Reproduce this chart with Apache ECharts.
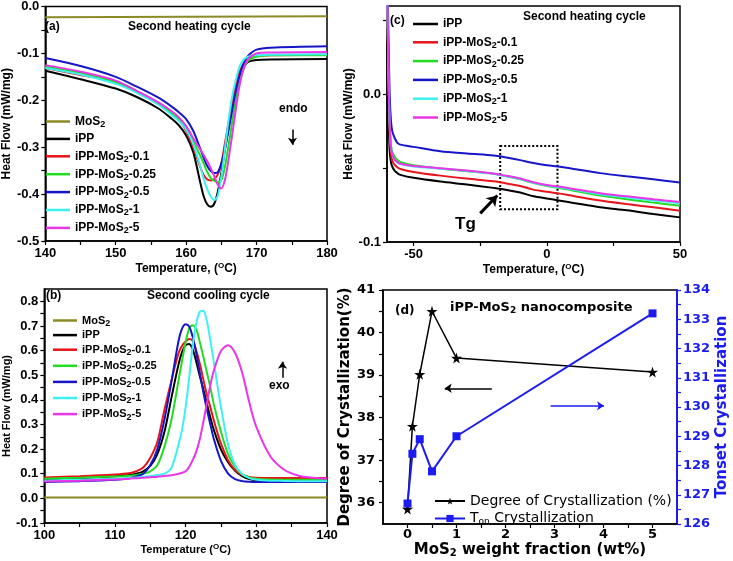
<!DOCTYPE html>
<html>
<head>
<meta charset="utf-8">
<script src="https://cdn.jsdelivr.net/npm/echarts@6/dist/echarts.min.js"></script>
<style>
  html, body { margin: 0; padding: 0; background: #fff; }
  #chart { width: 733px; height: 561px; }
</style>
</head>
<body>
<div id="chart"></div>
<script>
// ---- (a) second heating, melting region ----
const heatT = [140, 145, 150, 153, 156, 158, 159, 160, 161, 162, 162.5, 163, 163.5, 164, 164.5, 165, 165.5, 166, 166.5, 167, 167.5, 168, 168.5, 169, 170, 172, 180];
const heatIPP   = [-0.137, -0.155, -0.175, -0.193, -0.217, -0.24, -0.254, -0.275, -0.31, -0.375, -0.405, -0.422, -0.427, -0.42, -0.395, -0.355, -0.305, -0.26, -0.215, -0.178, -0.15, -0.132, -0.122, -0.117, -0.114, -0.113, -0.112];
const heatM01   = [-0.131, -0.146, -0.16, -0.182, -0.207, -0.23, -0.243, -0.265, -0.3, -0.342, -0.36, -0.369, -0.371, -0.368, -0.358, -0.334, -0.292, -0.25, -0.21, -0.172, -0.143, -0.126, -0.116, -0.111, -0.106, -0.104, -0.103];
const heatM025  = [-0.128, -0.142, -0.162, -0.181, -0.205, -0.228, -0.242, -0.261, -0.287, -0.318, -0.335, -0.353, -0.366, -0.372, -0.374, -0.37, -0.342, -0.298, -0.25, -0.205, -0.17, -0.14, -0.122, -0.113, -0.107, -0.104, -0.104];
const heatM05   = [-0.11, -0.127, -0.15, -0.171, -0.194, -0.214, -0.226, -0.24, -0.265, -0.303, -0.323, -0.34, -0.351, -0.355, -0.353, -0.335, -0.305, -0.265, -0.225, -0.185, -0.152, -0.127, -0.112, -0.102, -0.092, -0.088, -0.085];
const heatM1    = [-0.131, -0.145, -0.165, -0.184, -0.209, -0.232, -0.245, -0.262, -0.293, -0.34, -0.368, -0.39, -0.405, -0.413, -0.403, -0.362, -0.305, -0.245, -0.195, -0.16, -0.132, -0.116, -0.109, -0.106, -0.104, -0.103, -0.102];
const heatM5    = [-0.125, -0.139, -0.158, -0.18, -0.204, -0.224, -0.237, -0.255, -0.281, -0.305, -0.317, -0.33, -0.345, -0.362, -0.38, -0.388, -0.37, -0.328, -0.278, -0.225, -0.175, -0.14, -0.12, -0.108, -0.1, -0.098, -0.097];
const heatMoS2T = [140, 180];
const heatMoS2  = [-0.023, -0.021];

// ---- (b) second cooling, crystallization ----
const coolT = [100, 105, 110, 112, 113, 114, 115, 116, 117, 118, 119, 119.5, 120, 120.5, 121, 121.5, 122, 122.5, 123, 123.5, 124, 125, 126, 127, 128, 129, 130, 132, 134, 136, 138, 140];
const coolIPP  = [0.076, 0.082, 0.09, 0.095, 0.1, 0.11, 0.132, 0.18, 0.27, 0.41, 0.545, 0.595, 0.622, 0.627, 0.605, 0.555, 0.497, 0.443, 0.385, 0.328, 0.277, 0.198, 0.147, 0.112, 0.09, 0.078, 0.073, 0.07, 0.07, 0.07, 0.07, 0.07];
const coolM01  = [0.085, 0.09, 0.097, 0.102, 0.11, 0.125, 0.165, 0.23, 0.36, 0.48, 0.59, 0.62, 0.637, 0.647, 0.64, 0.6, 0.548, 0.483, 0.42, 0.37, 0.315, 0.222, 0.155, 0.115, 0.095, 0.087, 0.084, 0.083, 0.083, 0.083, 0.083, 0.083];
const coolM025 = [0.08, 0.084, 0.089, 0.092, 0.095, 0.1, 0.11, 0.135, 0.21, 0.32, 0.48, 0.56, 0.635, 0.69, 0.703, 0.686, 0.635, 0.575, 0.512, 0.45, 0.38, 0.27, 0.18, 0.128, 0.098, 0.085, 0.08, 0.077, 0.076, 0.076, 0.076, 0.076];
const coolM05  = [0.066, 0.07, 0.076, 0.082, 0.089, 0.1, 0.135, 0.2, 0.32, 0.475, 0.64, 0.69, 0.707, 0.698, 0.655, 0.59, 0.51, 0.432, 0.362, 0.3, 0.24, 0.152, 0.1, 0.078, 0.07, 0.067, 0.066, 0.066, 0.066, 0.066, 0.066, 0.066];
const coolM1   = [0.072, 0.076, 0.08, 0.083, 0.085, 0.088, 0.091, 0.095, 0.1, 0.125, 0.22, 0.28, 0.37, 0.49, 0.62, 0.71, 0.758, 0.762, 0.72, 0.64, 0.55, 0.37, 0.22, 0.135, 0.098, 0.082, 0.076, 0.072, 0.071, 0.07, 0.07, 0.07];
const coolM5   = [0.068, 0.072, 0.077, 0.08, 0.082, 0.084, 0.086, 0.088, 0.091, 0.094, 0.1, 0.104, 0.11, 0.128, 0.155, 0.19, 0.24, 0.31, 0.385, 0.46, 0.52, 0.598, 0.622, 0.59, 0.51, 0.39, 0.29, 0.17, 0.115, 0.092, 0.084, 0.08];
const coolMoS2T = [100, 140];
const coolMoS2  = [0.004, 0.004];

// ---- (c) second heating, glass transition region ----
const glassT = [-60, -59.5, -59, -58.5, -58, -57, -56, -55, -50, -40, -30, -20, -17, -10, -5, 0, 5, 10, 20, 30, 40, 50];
const glassIPP  = [0.06, -0.01, -0.038, -0.046, -0.049, -0.052, -0.0535, -0.0545, -0.0565, -0.059, -0.061, -0.0633, -0.064, -0.0665, -0.069, -0.0705, -0.072, -0.0735, -0.0765, -0.0785, -0.081, -0.0833];
const glassM01  = [0.075, 0.015, -0.025, -0.04, -0.045, -0.048, -0.0495, -0.0505, -0.0525, -0.055, -0.057, -0.0588, -0.0597, -0.062, -0.0645, -0.066, -0.0672, -0.0688, -0.0718, -0.0742, -0.0765, -0.0788];
const glassM025 = [0.08, 0.02, -0.018, -0.034, -0.039, -0.0425, -0.0445, -0.0458, -0.048, -0.0502, -0.052, -0.0537, -0.0547, -0.0575, -0.06, -0.062, -0.0635, -0.0652, -0.0685, -0.071, -0.0733, -0.0755];
const glassM05  = [0.1, 0.045, 0.0, -0.018, -0.025, -0.03, -0.033, -0.034, -0.0355, -0.0385, -0.04, -0.0413, -0.042, -0.0445, -0.0465, -0.048, -0.049, -0.0505, -0.0533, -0.0555, -0.0575, -0.0597];
const glassM1   = [0.08, 0.02, -0.02, -0.036, -0.041, -0.0447, -0.0462, -0.0472, -0.0488, -0.0503, -0.0518, -0.0538, -0.0548, -0.0573, -0.0598, -0.0617, -0.063, -0.0645, -0.0676, -0.0698, -0.0718, -0.0737];
const glassM5   = [0.08, 0.02, -0.02, -0.036, -0.041, -0.0445, -0.046, -0.047, -0.0485, -0.05, -0.0515, -0.0535, -0.0545, -0.057, -0.0595, -0.0613, -0.0625, -0.064, -0.067, -0.069, -0.071, -0.0728];

// ---- (d) nanocomposite summary ----
const loading = [0, 0.1, 0.25, 0.5, 1, 5];
const crystallinity = [35.85, 37.8, 39.02, 40.5, 39.4, 39.07];
const tOnset = [126.7, 128.4, 128.9, 127.8, 129.0, 133.2];

// ---- ticks ----
const ticksA_x = [140, 145, 150, 155, 160, 165, 170, 175, 180];
const labelsA_x = [140, 150, 160, 170, 180];
const ticksA_y = [-0.5, -0.45, -0.4, -0.35, -0.3, -0.25, -0.2, -0.15, -0.1, -0.05, 0];
const labelsA_y = [-0.5, -0.4, -0.3, -0.2, -0.1, 0];
const ticksB_x = [100, 105, 110, 115, 120, 125, 130, 135, 140];
const labelsB_x = [100, 110, 120, 130, 140];
const ticksB_y = [-0.1, -0.05, 0, 0.05, 0.1, 0.15, 0.2, 0.25, 0.3, 0.35, 0.4, 0.45, 0.5, 0.55, 0.6, 0.65, 0.7, 0.75, 0.8];
const labelsB_y = [-0.1, 0, 0.1, 0.2, 0.3, 0.4, 0.5, 0.6, 0.7, 0.8];
const ticksC_x = [-50, -25, 0, 25, 50];
const labelsC_x = [-50, 0, 50];
const ticksC_y = [-0.1, -0.05, 0, 0.05];
const labelsC_y = [-0.1, 0];
const ticksD_x = [0, 0.5, 1, 1.5, 2, 2.5, 3, 3.5, 4, 4.5, 5];
const labelsD_x = [0, 1, 2, 3, 4, 5];
const ticksD_yl = [36, 36.5, 37, 37.5, 38, 38.5, 39, 39.5, 40, 40.5, 41];
const labelsD_yl = [36, 37, 38, 39, 40, 41];
const ticksD_yr = [126, 126.5, 127, 127.5, 128, 128.5, 129, 129.5, 130, 130.5, 131, 131.5, 132, 132.5, 133, 133.5, 134];
const labelsD_yr = [126, 127, 128, 129, 130, 131, 132, 133, 134];

const colors = {
  'MoS2': '#8c8a24',
  'iPP': '#000000',
  'iPP-MoS2-0.1': '#e8141c',
  'iPP-MoS2-0.25': '#22dc22',
  'iPP-MoS2-0.5': '#1616c8',
  'iPP-MoS2-1': '#3ef0f0',
  'iPP-MoS2-5': '#e836e8'
};

const ARIAL = '"Liberation Sans", Arial, sans-serif';
const DEJAVU = '"DejaVu Sans", Verdana, sans-serif';

const richSub = {
  s: { fontSize: 9, lineHeight: 6, fontWeight: 'bold', fontFamily: ARIAL, padding: [6, 0, 0, 0] },
  p: { fontSize: 8, lineHeight: 6, fontWeight: 'bold', fontFamily: ARIAL, padding: [0, 0, 6, 0] }
};

function zip(xs, ys) {
  return xs.map((x, i) => [x, ys[i]]);
}

function curve(name, xs, ys, axis) {
  return {
    name: name,
    type: 'line',
    xAxisIndex: axis,
    yAxisIndex: axis,
    smooth: 0.3,
    symbol: 'none',
    lineStyle: { color: colors[name], width: 2 },
    itemStyle: { color: colors[name] },
    data: zip(xs, ys)
  };
}

function arrowLine(p1, p2, color) {
  return {
    silent: true,
    symbol: ['none', 'arrow'],
    symbolSize: 7,
    label: { show: false },
    lineStyle: { color: color, width: 1.5, type: 'solid' },
    data: [[{ coord: p1 }, { coord: p2 }]]
  };
}

function valAxis(grid, min, max, ticks, labels, fmt, extra) {
  return Object.assign({
    type: 'value',
    gridIndex: grid,
    min: min,
    max: max,
    splitLine: { show: false },
    axisLine: { show: true, onZero: false, lineStyle: { color: '#000', width: 1.5 } },
    axisTick: { show: true, inside: false, length: 4, customValues: ticks, lineStyle: { color: '#000', width: 1.2 } },
    axisLabel: {
      customValues: labels,
      color: '#000',
      fontFamily: ARIAL,
      fontWeight: 'bold',
      fontSize: 13,
      margin: 6,
      formatter: fmt
    },
    nameLocation: 'middle',
    nameTextStyle: { color: '#000', fontFamily: ARIAL, fontWeight: 'bold', fontSize: 12, rich: richSub }
  }, extra || {});
}

const f0 = v => String(v);
const f1 = v => v.toFixed(1);

const legendNames = ['MoS2', 'iPP', 'iPP-MoS2-0.1', 'iPP-MoS2-0.25', 'iPP-MoS2-0.5', 'iPP-MoS2-1', 'iPP-MoS2-5'];
const legendFmt = n => n.replace('MoS2', 'MoS{s|2}');

function legendBox(left, top, names, size, lineH, gap, width) {
  return {
    orient: 'vertical',
    left: left,
    top: top,
    padding: 0,
    data: names,
    icon: 'rect',
    itemWidth: width,
    itemHeight: 2.5,
    itemGap: gap,
    selectedMode: false,
    formatter: legendFmt,
    textStyle: { color: '#000', fontFamily: ARIAL, fontWeight: 'bold', fontSize: size, lineHeight: lineH, rich: richSub }
  };
}

function label(text, left, top, size, family, color) {
  return {
    text: text,
    left: left,
    top: top,
    padding: 0,
    textStyle: { color: color || '#000', fontFamily: family || ARIAL, fontWeight: 'bold', fontSize: size, rich: {
      s: { fontSize: size - 4, lineHeight: 6, fontWeight: 'bold', fontFamily: family || ARIAL, padding: [6, 0, 0, 0] }
    } }
  };
}

const starPath = 'path://M50,0 L61,35 L98,35 L68,57 L79,91 L50,70 L21,91 L32,57 L2,35 L39,35 Z';

const chart = echarts.init(document.getElementById('chart'), null, { renderer: 'canvas' });

const option = {
  animation: false,
  backgroundColor: '#fff',
  title: [
    label('(a)', 45, 21, 12),
    label('Second heating cycle', 128, 21, 12),
    label('endo', 279, 103, 12),
    label('(c)', 390, 15, 12),
    label('Second heating cycle', 523, 11, 12),
    label('Tg', 455, 216, 17),
    label('(b)', 46, 290, 12),
    label('Second cooling cycle', 147, 290, 12),
    label('exo', 269, 380, 12),
    label('(d)', 395, 305, 12, DEJAVU),
    label('iPP-MoS{s|2} nanocomposite', 450, 301, 13, DEJAVU)
  ],
  legend: [
    legendBox(46, 114, legendNames, 12, 14, 2.9, 24),
    legendBox(413, 17, legendNames.slice(1), 12, 14, 3.8, 25),
    legendBox(53, 313, legendNames, 11, 12, 1.1, 24),
    {
      orient: 'vertical',
      left: 434,
      top: 494,
      padding: 0,
      data: ['Degree of Crystallization (%)', 'Ton Crystallization'],
      itemWidth: 30,
      itemHeight: 9,
      itemGap: 3,
      selectedMode: false,
      formatter: n => n === 'Ton Crystallization' ? 'T{s|on} Crystallization' : n,
      textStyle: { color: '#000', fontFamily: DEJAVU, fontSize: 14, lineHeight: 14, rich: {
        s: { fontSize: 9, lineHeight: 6, fontFamily: DEJAVU, padding: [6, 0, 0, 0] }
      } }
    }
  ],
  grid: [
    { left: 42, top: 5, width: 285, height: 236, show: true, borderColor: '#000', borderWidth: 1.5 },
    { left: 387, top: 6, width: 293, height: 236, show: true, borderColor: '#000', borderWidth: 1.5 },
    { left: 43, top: 289, width: 284, height: 234, show: true, borderColor: '#000', borderWidth: 1.5 },
    { left: 383, top: 290, width: 294, height: 234, show: true, borderColor: '#000', borderWidth: 1.5 }
  ],
  xAxis: [
    valAxis(0, 140, 180, ticksA_x, labelsA_x, f0, { name: 'Temperature, ({p|O}C)', nameGap: 22 }),
    valAxis(1, -60, 50, ticksC_x, labelsC_x, f0, { name: 'Temperature, ({p|O}C)', nameGap: 22 }),
    valAxis(2, 100, 140, ticksB_x, labelsB_x, f0, { name: 'Temperature ({p|O}C)', nameGap: 21, nameTextStyle: { color: '#000', fontFamily: ARIAL, fontWeight: 'bold', fontSize: 11, rich: richSub } }),
    valAxis(3, -0.5, 5.5, ticksD_x, labelsD_x, f0, {
      name: 'MoS{s|2} weight fraction (wt%)', nameGap: 17,
      nameTextStyle: { color: '#000', fontFamily: DEJAVU, fontWeight: 'bold', fontSize: 15, rich: {
        s: { fontSize: 10, lineHeight: 6, fontWeight: 'bold', fontFamily: DEJAVU, padding: [7, 0, 0, 0] }
      } },
      axisLabel: { customValues: labelsD_x, color: '#000', fontFamily: DEJAVU, fontWeight: 'bold', fontSize: 13, margin: 4, formatter: f0 }
    })
  ],
  yAxis: [
    valAxis(0, -0.5, 0, ticksA_y, labelsA_y, f1, { name: 'Heat Flow (mW/mg)', nameGap: 28 }),
    valAxis(1, -0.1, 0.06, ticksC_y, labelsC_y, f1, { name: 'Heat Flow (mW/mg)', nameGap: 26 }),
    valAxis(2, -0.1, 0.85, ticksB_y, labelsB_y, f1, { name: 'Heat Flow (mW/mg)', nameGap: 25, nameTextStyle: { color: '#000', fontFamily: ARIAL, fontWeight: 'bold', fontSize: 11 } }),
    valAxis(3, 35.5, 41, ticksD_yl, labelsD_yl, f0, {
      name: 'Degree of Crystallization(%)', nameGap: 20,
      nameTextStyle: { color: '#000', fontFamily: DEJAVU, fontWeight: 'bold', fontSize: 15 },
      axisLabel: { customValues: labelsD_yl, color: '#000', fontFamily: DEJAVU, fontWeight: 'bold', fontSize: 13, margin: 8, formatter: f0 }
    }),
    valAxis(3, 126, 134, ticksD_yr, labelsD_yr, f0, {
      position: 'right',
      name: 'Tonset Crystallization', nameGap: 38,
      nameRotate: 90,
      nameTextStyle: { color: '#1c1cf0', fontFamily: DEJAVU, fontWeight: 'bold', fontSize: 15 },
      axisLine: { show: true, onZero: false, lineStyle: { color: '#1c1cf0', width: 2 } },
      axisTick: { show: true, length: 4, customValues: ticksD_yr, lineStyle: { color: '#1c1cf0', width: 1.2 } },
      axisLabel: { customValues: labelsD_yr, color: '#1c1cf0', fontFamily: DEJAVU, fontWeight: 'bold', fontSize: 13, margin: 6, formatter: f0 }
    })
  ],
  series: [
    // (a)
    Object.assign(curve('MoS2', heatMoS2T, heatMoS2, 0), { smooth: false }),
    Object.assign(curve('iPP', heatT, heatIPP, 0), { markLine: arrowLine([175.1, -0.262], [175.1, -0.295], '#000') }),
    curve('iPP-MoS2-0.1', heatT, heatM01, 0),
    curve('iPP-MoS2-0.25', heatT, heatM025, 0),
    curve('iPP-MoS2-0.5', heatT, heatM05, 0),
    curve('iPP-MoS2-1', heatT, heatM1, 0),
    curve('iPP-MoS2-5', heatT, heatM5, 0),
    // (c)
    Object.assign(curve('iPP', glassT, glassIPP, 1), {
      markLine: Object.assign(arrowLine([-25, -0.0806], [-18.6, -0.0685], '#000'), { lineStyle: { color: '#000', width: 3, type: 'solid' }, symbolSize: 10 }),
      markArea: {
        silent: true,
        itemStyle: { color: 'rgba(0,0,0,0)', borderColor: '#000', borderWidth: 2, borderType: 'dotted' },
        data: [[{ coord: [-17.5, -0.0349] }, { coord: [4, -0.0778] }]]
      }
    }),
    curve('iPP-MoS2-0.1', glassT, glassM01, 1),
    curve('iPP-MoS2-0.25', glassT, glassM025, 1),
    curve('iPP-MoS2-0.5', glassT, glassM05, 1),
    curve('iPP-MoS2-1', glassT, glassM1, 1),
    curve('iPP-MoS2-5', glassT, glassM5, 1),
    // (b)
    Object.assign(curve('MoS2', coolMoS2T, coolMoS2, 2), { smooth: false }),
    Object.assign(curve('iPP', coolT, coolIPP, 2), { markLine: arrowLine([133.7, 0.49], [133.7, 0.555], '#000') }),
    curve('iPP-MoS2-0.1', coolT, coolM01, 2),
    curve('iPP-MoS2-0.25', coolT, coolM025, 2),
    curve('iPP-MoS2-0.5', coolT, coolM05, 2),
    curve('iPP-MoS2-1', coolT, coolM1, 2),
    curve('iPP-MoS2-5', coolT, coolM5, 2),
    // (d)
    {
      name: 'Degree of Crystallization (%)',
      type: 'line',
      xAxisIndex: 3,
      yAxisIndex: 3,
      symbol: starPath,
      symbolSize: 11,
      lineStyle: { color: '#000', width: 1.5 },
      itemStyle: { color: '#000' },
      data: zip(loading, crystallinity),
      markLine: arrowLine([1.72, 38.69], [0.76, 38.69], '#000'),
      z: 3
    },
    {
      name: 'Ton Crystallization',
      type: 'line',
      xAxisIndex: 3,
      yAxisIndex: 4,
      symbol: 'rect',
      symbolSize: 8,
      lineStyle: { color: '#1c1cf0', width: 2 },
      itemStyle: { color: '#1c1cf0' },
      data: zip(loading, tOnset),
      markLine: arrowLine([2.92, 130.04], [4.01, 130.04], '#1c1cf0')
    }
  ]
};

chart.setOption(option);
</script>
</body>
</html>
